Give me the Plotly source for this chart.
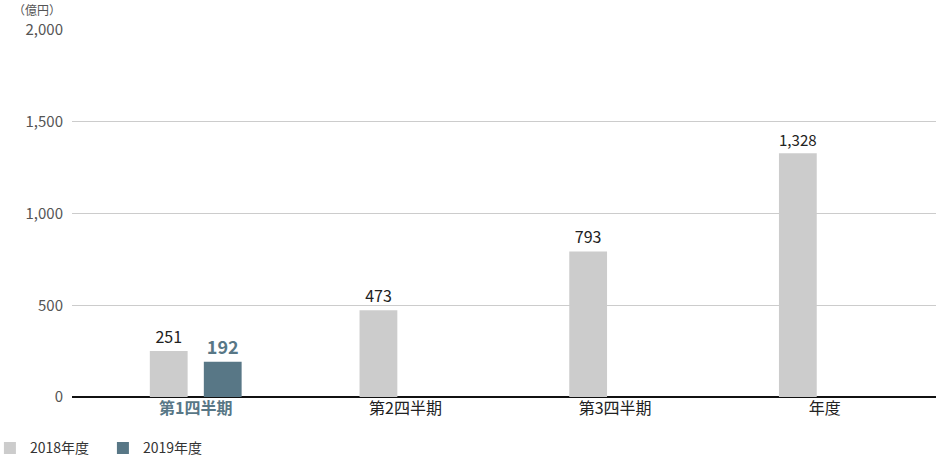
import plotly.graph_objects as go

categories = ["第1四半期", "第2四半期", "第3四半期", "年度"]
tick_labels = ["<b><span style='color:#587786'>第1四半期</span></b>", "第2四半期", "第3四半期", "年度"]
fy2018 = [251, 473, 793, 1328]
fy2019 = [192, None, None, None]
y_ticks = [0, 500, 1000, 1500, 2000]

font_family = "Noto Sans CJK JP"
grey = "#cccccc"
slate = "#587786"

fig = go.Figure()
fig.add_trace(go.Bar(
    x=categories, y=fy2018, name="2018年度",
    marker=dict(color=grey, line=dict(width=0)),
    text=[f"{v:,}" for v in fy2018], textposition="outside",
    textfont=dict(family=font_family, size=16, color="#222222"),
    cliponaxis=False,
))
fig.add_trace(go.Bar(
    x=categories, y=fy2019, name="2019年度",
    marker=dict(color=slate, line=dict(width=0)),
    text=[f"<b>{v:,}</b>" if v is not None else "" for v in fy2019], textposition="outside",
    textfont=dict(family=font_family, size=18, color=slate),
    cliponaxis=False,
))

fig.update_layout(
    width=936, height=456,
    margin=dict(l=72, r=0, t=30, b=59, autoexpand=False),
    plot_bgcolor="white", paper_bgcolor="white",
    barmode="group", bargap=0.485, bargroupgap=0.3,
    font=dict(family=font_family, color="#333333"),
    showlegend=True,
    legend=dict(
        orientation="h", x=-0.095, xanchor="left", y=-0.14, yanchor="middle",
        font=dict(size=14, color="#333333"),
        entrywidth=68, entrywidthmode="pixels",
        itemclick=False, traceorder="normal",
    ),
)
fig.update_xaxes(
    type="category", range=[-0.59, 3.53], automargin=False,
    tickmode="array", tickvals=categories, ticktext=tick_labels,
    tickfont=dict(size=16, color="#222222"),
    showline=False, showgrid=False, ticks="",
)
fig.update_yaxes(
    range=[0, 2000], tickvals=y_ticks, tickformat=",", automargin=False,
    tickfont=dict(size=15, color="#555555"),
    gridcolor="#cccccc", gridwidth=1,
    zeroline=True, zerolinecolor="#111111", zerolinewidth=1.5,
    ticks="", ticklabelstandoff=8, showline=False,
)
fig.add_annotation(
    text="（億円）", xref="paper", yref="paper", x=-0.071, y=1.0,
    xanchor="left", yanchor="middle", yshift=21, showarrow=False,
    font=dict(family=font_family, size=12, color="#555555"),
)

# drop the default body margin so the figure fills the window
fig.write_html("out.html", config={"displayModeBar": False},
               post_script="document.body.style.margin='0';")
